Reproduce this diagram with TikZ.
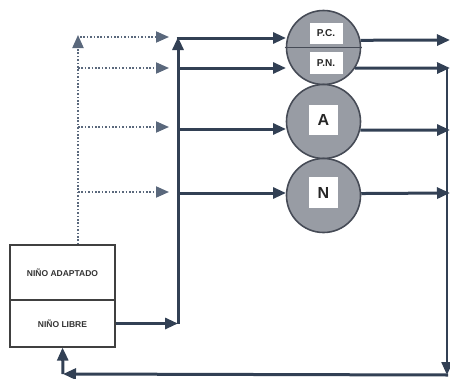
\documentclass[tikz,border=0pt]{standalone}
\usepackage{fontspec}
\setmainfont{Liberation Sans}
\usetikzlibrary{arrows.meta}
\definecolor{ink}{RGB}{50,64,84}
\definecolor{dotink}{RGB}{90,104,124}
\definecolor{ballfill}{RGB}{152,156,164}
\definecolor{ballline}{RGB}{70,75,86}
\begin{document}
\begin{tikzpicture}[x=1pt,y=-1pt,
  tip/.style={-{Triangle[length=13pt,width=11pt]}},
  flow/.style={draw=ink,line width=3pt,tip},
  hint/.style={draw=dotink,line width=1.9pt,dash pattern=on 1.6pt off 1.8pt,tip},
  ball/.style={circle,draw=ballline,line width=1.6pt,fill=ballfill,minimum size=74pt,inner sep=0pt},
  tag/.style={fill=white,inner sep=0pt,font=\bfseries\fontsize{10}{11}\selectfont,text=black!85},
  bigtag/.style={tag,font=\bfseries\fontsize{16}{17}\selectfont},
  part/.style={draw=black!75,line width=1.2pt,fill=white,minimum width=105pt,inner sep=0pt,
    font=\bfseries\fontsize{8.5}{9}\selectfont,text=black!80}
]
\useasboundingbox (0,0) rectangle (450,378);

% ego-state box
\node[part,minimum height=55pt] (adaptado) at (62.5,272.5) {NIÑO ADAPTADO};
\node[part,minimum height=47pt] (libre) at (62.5,323.5) {NIÑO LIBRE};

% circles
\node[ball] (pcpn) at (323.5,47.5) {};
\node[ball] (a) at (323.5,121.5) {};
\node[ball] (n) at (323.5,195.5) {};
\draw[draw=ballline,line width=1.8pt] ([xshift=-1pt]pcpn.west) -- ([xshift=1pt]pcpn.east);
\node[tag,minimum width=33pt,minimum height=21pt] (pc) at (326,33) {P.C.};
\node[tag,minimum width=33pt,minimum height=22pt] (pn) at (326,63) {P.N.};
\node[bigtag,minimum width=29pt,minimum height=30pt] (alab) at (323.5,120) {A};
\node[bigtag,minimum width=29pt,minimum height=31pt] (nlab) at (323.5,192.5) {N};

% junction points
\coordinate (busb) at (178,323.5);
\coordinate (bust) at (178,38);
\coordinate (b2) at (178,68);
\coordinate (b3) at (178,129);
\coordinate (b4) at (178,193);
\coordinate (in1) at (286,38);
\coordinate (in2) at (286,68);
\coordinate (in3) at (286,129);
\coordinate (in4) at (286,193);
\coordinate (out1) at (450,40);
\coordinate (out2) at (450,68);
\coordinate (out3) at (450,130);
\coordinate (out4) at (450,193);
\coordinate (rtop) at (447,68);
\coordinate (rbot) at (447,375);
\coordinate (lbot) at (63,374);
\coordinate (dv) at (78,37);
\coordinate (d2) at (78,68);
\coordinate (d3) at (78,127);
\coordinate (d4) at (78,192);
\coordinate (e1) at (169,37);
\coordinate (e2) at (169,68);
\coordinate (e3) at (169,127);
\coordinate (e4) at (169,192);

% dotted feed from the adapted child
\draw[hint] (dv |- adaptado.north) -- ([yshift=2pt]dv);
\draw[hint] ([xshift=2pt]dv) -- (e1);
\draw[hint] (d2) -- (e2);
\draw[hint] (d3) -- (e3);
\draw[hint] (d4) -- (e4);

% free child bus
\draw[flow] (libre.east) -- (busb);
\draw[flow] (busb) -- ([yshift=1pt]bust);
\draw[flow] ([xshift=-1.5pt]bust) -- (in1);
\draw[flow] (b2) -- (in2);
\draw[flow] (b3) -- (in3);
\draw[flow] (b4) -- (in4);

% outputs
\draw[flow] (pcpn.11) -- (out1);
\draw[flow] (pcpn.-33) -- (out2);
\draw[flow] (a.-13) -- (out3);
\draw[flow] (n.3) -- (out4);

% feedback loop
\draw[draw=ink,line width=2.2pt,tip] (rtop) -- (rbot);
\draw[flow] ([xshift=1pt]rbot) -- (lbot);
\draw[flow] (lbot) -- (libre.south);
\end{tikzpicture}
\end{document}
